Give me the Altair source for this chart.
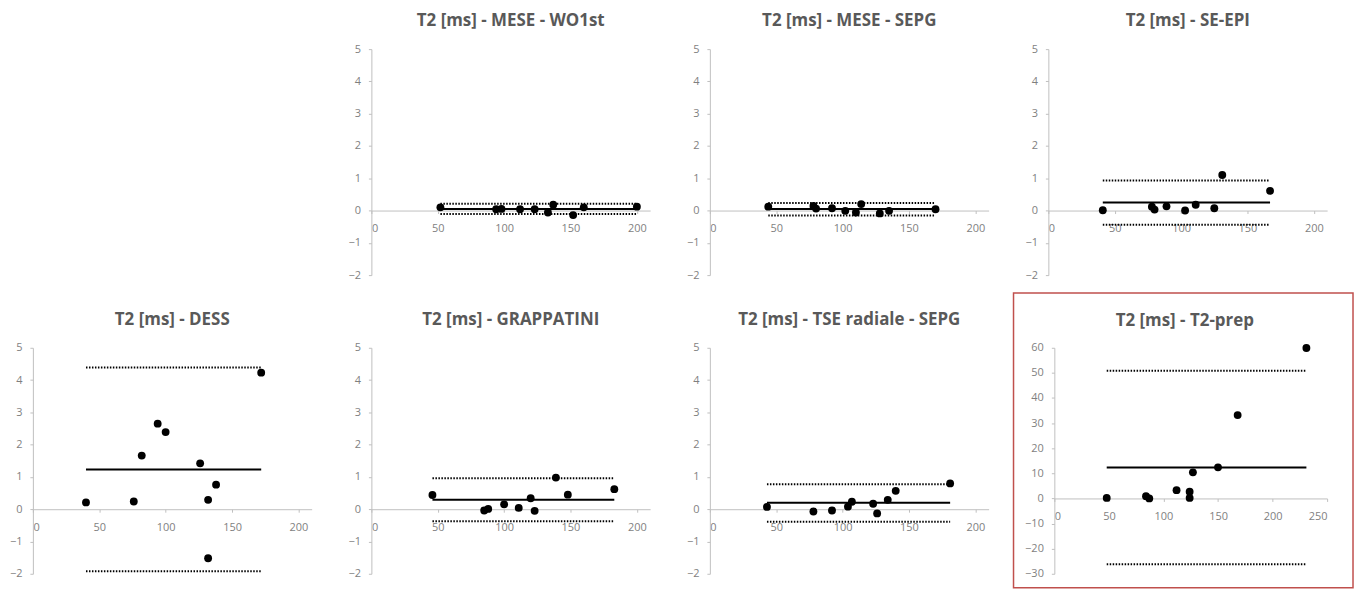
import altair as alt
import pandas as pd

# ---------------- data ----------------
titles = [
    "T2 [ms] - MESE - WO1st",
    "T2 [ms] - MESE - SEPG",
    "T2 [ms] - SE-EPI",
    "T2 [ms] - DESS",
    "T2 [ms] - GRAPPATINI",
    "T2 [ms] - TSE radiale - SEPG",
    "T2 [ms] - T2-prep",
]

wo1st_x = [52, 94, 98, 112, 123, 133, 137, 152, 160, 200]
wo1st_y = [0.10, 0.04, 0.05, 0.04, 0.04, -0.06, 0.18, -0.14, 0.10, 0.12]

sepg_x = [44, 78, 80, 92, 102, 110, 114, 128, 135, 170]
sepg_y = [0.12, 0.14, 0.06, 0.07, -0.01, -0.06, 0.20, -0.09, -0.01, 0.04]

seepi_x = [41, 78, 80, 89, 103, 111, 125, 131, 167]
seepi_y = [0.01, 0.12, 0.03, 0.13, 0.00, 0.18, 0.07, 1.10, 0.61]

dess_x = [40, 76, 82, 94, 100, 126, 132, 138, 132, 172]
dess_y = [0.21, 0.24, 1.66, 2.65, 2.39, 1.42, 0.29, 0.76, -1.52, 4.23]

grap_x = [46, 85, 88, 100, 111, 120, 123, 139, 148, 183]
grap_y = [0.44, -0.04, 0.01, 0.15, 0.04, 0.34, -0.05, 0.98, 0.45, 0.62]

tse_x = [43, 78, 92, 104, 107, 123, 126, 134, 140, 181]
tse_y = [0.07, -0.07, -0.04, 0.08, 0.23, 0.17, -0.13, 0.29, 0.57, 0.80]

prep_x = [48, 84, 87, 112, 124, 124, 127, 150, 168, 231]
prep_y = [0.2, 0.9, 0.0, 3.3, 2.7, 0.2, 10.4, 12.4, 33.2, 59.9]

bias = [0.05, 0.05, 0.25, 1.23, 0.29, 0.20, 12.3]
upper = [0.21, 0.23, 0.93, 4.39, 0.96, 0.77, 50.9]
lower = [-0.11, -0.15, -0.44, -1.92, -0.37, -0.39, -26.2]

ticks_small_y = [-2, -1, 0, 1, 2, 3, 4, 5]
ticks_small_x = [0, 50, 100, 150, 200]
ticks_prep_y = [-30, -20, -10, 0, 10, 20, 30, 40, 50, 60]
ticks_prep_x = [0, 50, 100, 150, 200, 250]

FONT = "Open Sans"
AX_COL = "#bfbfbf"
LAB_COL = "#7f7f7f"
TITLE_COL = "#595959"
W, H = 280, 227


def panel(i, xs, ys, xmax, ydom, yticks, xticks, border=False, inset=0):
    pts = pd.DataFrame({"x": xs, "y": ys})
    lim = pd.DataFrame({"x": [min(xs)] * 2, "x2": [max(xs)] * 2, "y": [upper[i], lower[i]]})
    mean = pd.DataFrame({"x": [min(xs)], "x2": [max(xs)], "y": [bias[i]]})
    xsc = alt.Scale(domain=[0, xmax], nice=False, zero=False, range=[inset, W])
    ysc = alt.Scale(domain=ydom, nice=False, zero=False)
    off = -H * (0 - ydom[0]) / (ydom[1] - ydom[0])
    xaxis = alt.Axis(values=xticks, offset=off, grid=False, title=None,
                     domainColor=AX_COL, tickColor=AX_COL, tickSize=3,
                     labelColor=LAB_COL, labelFont=FONT, labelFontSize=11,
                     labelPadding=9)
    yaxis = alt.Axis(values=yticks, grid=False, title=None, offset=-inset,
                     domainColor=AX_COL, tickColor=AX_COL, tickSize=3,
                     labelColor=LAB_COL, labelFont=FONT, labelFontSize=11,
                     labelPadding=8)
    l1 = alt.Chart(lim).mark_rule(strokeWidth=2, strokeDash=[1.5, 1.5], color="black").encode(
        x=alt.X("x:Q", scale=xsc, axis=xaxis), x2="x2:Q",
        y=alt.Y("y:Q", scale=ysc, axis=yaxis))
    l2 = alt.Chart(mean).mark_rule(strokeWidth=2, color="black").encode(
        x=alt.X("x:Q", scale=xsc, axis=xaxis), x2="x2:Q",
        y=alt.Y("y:Q", scale=ysc, axis=yaxis))
    l3 = alt.Chart(pts).mark_circle(size=62, color="black", opacity=1).encode(
        x=alt.X("x:Q", scale=xsc, axis=xaxis),
        y=alt.Y("y:Q", scale=ysc, axis=yaxis))
    layers = [l1, l2, l3]
    if border:
        # highlighted panel: red frame, title drawn as a text mark inside the frame
        box = alt.Chart(pd.DataFrame({"a": [0]})).mark_rect(
            filled=False, stroke="#c0504d", strokeWidth=1.5).encode(
            x=alt.value(-35), x2=alt.value(W + 26), y=alt.value(-55), y2=alt.value(H + 14))
        ttl = alt.Chart(pd.DataFrame({"t": [titles[i]]})).mark_text(
            font=FONT, fontSize=17, fontWeight="bold", color=TITLE_COL,
            align="center", baseline="alphabetic").encode(
            text="t:N", x=alt.value(W / 2 - 3), y=alt.value(-22))
        layers += [box, ttl]
        return alt.layer(*layers).properties(width=W, height=H)
    return alt.layer(*layers).properties(
        width=W, height=H,
        title=alt.TitleParams(titles[i], frame="group", font=FONT, fontSize=17,
                              fontWeight="bold", color=TITLE_COL, offset=13))


placeholder = alt.Chart(pd.DataFrame({"x": [0]})).mark_point(opacity=0).encode(
    x=alt.X("x:Q", axis=None), y=alt.Y("x:Q", axis=None)).properties(width=W, height=H)

p1 = panel(0, wo1st_x, wo1st_y, 210, [-2, 5], ticks_small_y, ticks_small_x)
p2 = panel(1, sepg_x, sepg_y, 210, [-2, 5], ticks_small_y, ticks_small_x)
p3 = panel(2, seepi_x, seepi_y, 210, [-2, 5], ticks_small_y, ticks_small_x)
p4 = panel(3, dess_x, dess_y, 210, [-2, 5], ticks_small_y, ticks_small_x)
p5 = panel(4, grap_x, grap_y, 210, [-2, 5], ticks_small_y, ticks_small_x)
p6 = panel(5, tse_x, tse_y, 210, [-2, 5], ticks_small_y, ticks_small_x)
p7 = panel(6, prep_x, prep_y, 250, [-30, 60], ticks_prep_y, ticks_prep_x, border=True, inset=6)

chart = alt.concat(placeholder, p1, p2, p3, p4, p5, p6, p7, columns=4,
                   spacing={"row": 73, "column": 60}, bounds="flush").properties(
    padding={"left": 0, "top": 2, "right": 0, "bottom": 0},
    background="white",
).configure_view(stroke="transparent")

chart.save("out.html", embed_options={"renderer": "svg", "actions": False})
